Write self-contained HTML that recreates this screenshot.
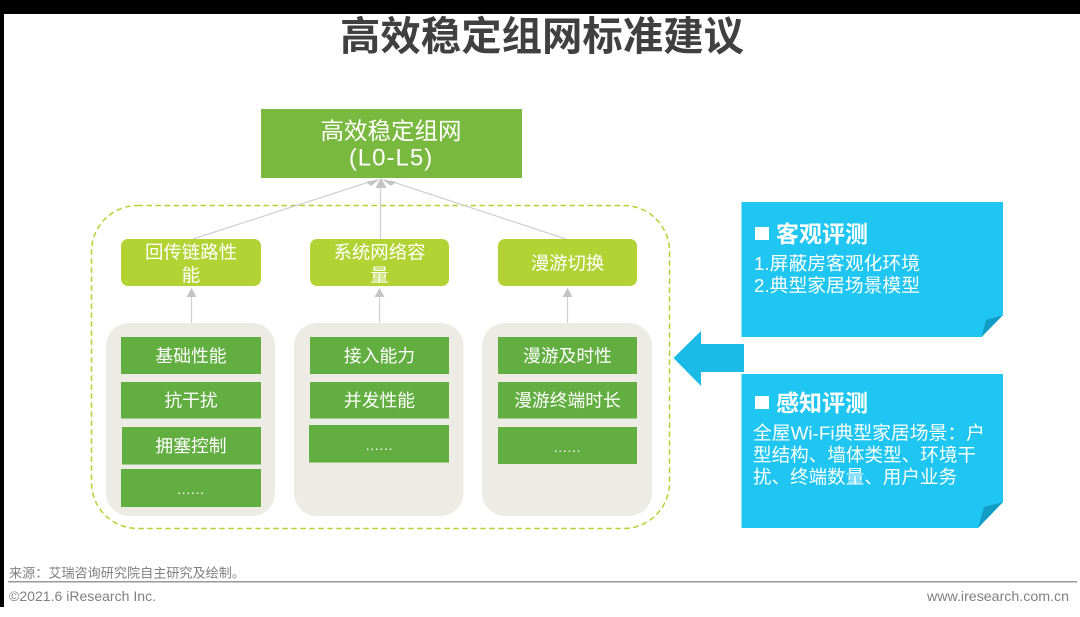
<!DOCTYPE html>
<html lang="zh">
<head>
<meta charset="utf-8">
<style>
html,body{margin:0;padding:0;background:#fff;width:1080px;height:617px;overflow:hidden}
svg{display:block;position:absolute;left:0;top:0;filter:blur(0.35px)}
text{font-family:"Liberation Sans","Noto Sans CJK SC",sans-serif}
.w{fill:#fff;text-anchor:middle;dominant-baseline:central}
</style>
</head>
<body>
<svg width="1080" height="617" viewBox="0 0 1080 617" xmlns="http://www.w3.org/2000/svg">
<rect width="1080" height="617" fill="#fff"/>
<rect x="0" y="0" width="1080" height="14" fill="#000"/>
<rect x="0" y="0" width="4" height="607" fill="#000"/>

<text x="542" y="37" text-anchor="middle" dominant-baseline="central" font-size="40" font-weight="700" fill="#404040" textLength="404" lengthAdjust="spacingAndGlyphs">高效稳定组网标准建议</text>

<!-- dashed frame -->
<rect x="91.500" y="205.500" width="578" height="323" rx="46" ry="46" fill="none" stroke="#b3d334" stroke-width="1.500" stroke-dasharray="5.500 3.500"/>

<!-- connectors -->
<g stroke="#d0d0d0" stroke-width="1.200" fill="none">
<line x1="193" y1="239" x2="372" y2="181"/>
<line x1="380.500" y1="239" x2="380.500" y2="184"/>
<line x1="566" y1="239" x2="390" y2="181"/>
<line x1="191.500" y1="296" x2="191.500" y2="323"/>
<line x1="379.500" y1="296" x2="379.500" y2="323"/>
<line x1="567.500" y1="296" x2="567.500" y2="323"/>
</g>
<g fill="#c4c4c4">
<polygon points="380,179 371,186 366,182"/>
<polygon points="382,179 391,186 396,182"/>
<polygon points="381,178 375.500,188 386.500,188"/>
<polygon points="191.500,288 186.500,297 196.500,297"/>
<polygon points="379.500,288 374.500,297 384.500,297"/>
<polygon points="567.500,288 562.500,297 572.500,297"/>
</g>

<!-- top box -->
<rect x="261" y="109" width="261" height="69" fill="#7ab93f"/>
<text class="w" x="391" y="131" font-size="23.500">高效稳定组网</text>
<text class="w" x="391" y="158" font-size="24" letter-spacing="1">(L0-L5)</text>

<!-- light green -->
<g fill="#b3d334">
<rect x="121" y="239" width="140" height="47" rx="7"/>
<rect x="310" y="239" width="139" height="47" rx="7"/>
<rect x="498" y="239" width="139" height="47" rx="7"/>
</g>
<g font-size="18.400">
<text class="w" x="191" y="252">回传链路性</text>
<text class="w" x="191" y="275">能</text>
<text class="w" x="379.500" y="252">系统网络容</text>
<text class="w" x="379.500" y="275">量</text>
<text class="w" x="567.500" y="263">漫游切换</text>
</g>

<!-- grey panels -->
<g fill="#ecebe4">
<rect x="106" y="323" width="169" height="193" rx="23"/>
<rect x="294" y="323" width="169.500" height="193" rx="23"/>
<rect x="482" y="323" width="170" height="193" rx="23"/>
</g>

<!-- green rows -->
<g fill="#62ae41">
<rect x="121" y="337" width="140" height="37"/>
<rect x="121" y="382" width="140" height="36.500"/>
<rect x="122" y="427" width="139" height="37.500"/>
<rect x="121" y="469" width="140" height="38"/>
<rect x="310" y="337" width="139" height="37"/>
<rect x="310" y="382" width="139" height="36.500"/>
<rect x="309" y="425" width="140" height="37.500"/>
<rect x="498" y="337" width="139" height="37"/>
<rect x="498" y="382" width="139" height="36.500"/>
<rect x="498" y="427" width="139" height="37"/>
</g>
<g font-size="17.800">
<text class="w" x="191" y="356">基础性能</text>
<text class="w" x="191" y="400.500">抗干扰</text>
<text class="w" x="191" y="446">拥塞控制</text>
<text class="w" x="191" y="489" font-size="14" letter-spacing="0.700">......</text>
<text class="w" x="379.500" y="356">接入能力</text>
<text class="w" x="379.500" y="400.500">并发性能</text>
<text class="w" x="379.500" y="445" font-size="14" letter-spacing="0.700">......</text>
<text class="w" x="567.500" y="356">漫游及时性</text>
<text class="w" x="567.500" y="400.500">漫游终端时长</text>
<text class="w" x="567.500" y="447" font-size="14" letter-spacing="0.700">......</text>
</g>

<!-- blue notes -->
<polygon points="741.500,202 1003,202 1003,315 981.500,337 741.500,337" fill="#1fc6f2"/>
<polygon points="1003,315 981.500,337 986,320" fill="#149dc4"/>
<polygon points="741.500,374 1003,374 1003,502 978,528 741.500,528" fill="#1fc6f2"/>
<polygon points="1003,502 978,528 984,507" fill="#149dc4"/>

<!-- arrow -->
<polygon points="673.500,358 701,331 701,344 744,344 744,372 701,372 701,386" fill="#1bbbe8"/>

<!-- note text -->
<rect x="755" y="227" width="14" height="13" fill="#fff"/>
<text x="776" y="234" dominant-baseline="central" font-size="23" font-weight="700" fill="#fff">客观评测</text>
<text x="754" y="263.500" dominant-baseline="central" font-size="18.500" fill="#fff" textLength="166" lengthAdjust="spacingAndGlyphs">1.屏蔽房客观化环境</text>
<text x="754" y="285.500" dominant-baseline="central" font-size="18.500" fill="#fff" textLength="166" lengthAdjust="spacingAndGlyphs">2.典型家居场景模型</text>

<rect x="755" y="396" width="14" height="13" fill="#fff"/>
<text x="776" y="403" dominant-baseline="central" font-size="23" font-weight="700" fill="#fff">感知评测</text>
<text x="753" y="433" dominant-baseline="central" font-size="18.500" fill="#fff" textLength="232" lengthAdjust="spacingAndGlyphs">全屋Wi-Fi典型家居场景：户</text>
<text x="753" y="455" dominant-baseline="central" font-size="18.500" fill="#fff" textLength="223" lengthAdjust="spacingAndGlyphs">型结构、墙体类型、环境干</text>
<text x="753" y="477" dominant-baseline="central" font-size="18.500" fill="#fff" textLength="204" lengthAdjust="spacingAndGlyphs">扰、终端数量、用户业务</text>

<!-- footer -->
<text x="9" y="573" dominant-baseline="central" font-size="13" fill="#7f7f7f" textLength="236" lengthAdjust="spacingAndGlyphs">来源：艾瑞咨询研究院自主研究及绘制。</text>
<rect x="8" y="581" width="1069" height="1.500" fill="#9a9a9a"/>
<text x="9" y="596" dominant-baseline="central" font-size="14" fill="#808080" textLength="147" lengthAdjust="spacingAndGlyphs">©2021.6 iResearch Inc.</text>
<text x="927" y="596" dominant-baseline="central" font-size="14" fill="#808080" textLength="142" lengthAdjust="spacingAndGlyphs">www.iresearch.com.cn</text>
</svg>
</body>
</html>
